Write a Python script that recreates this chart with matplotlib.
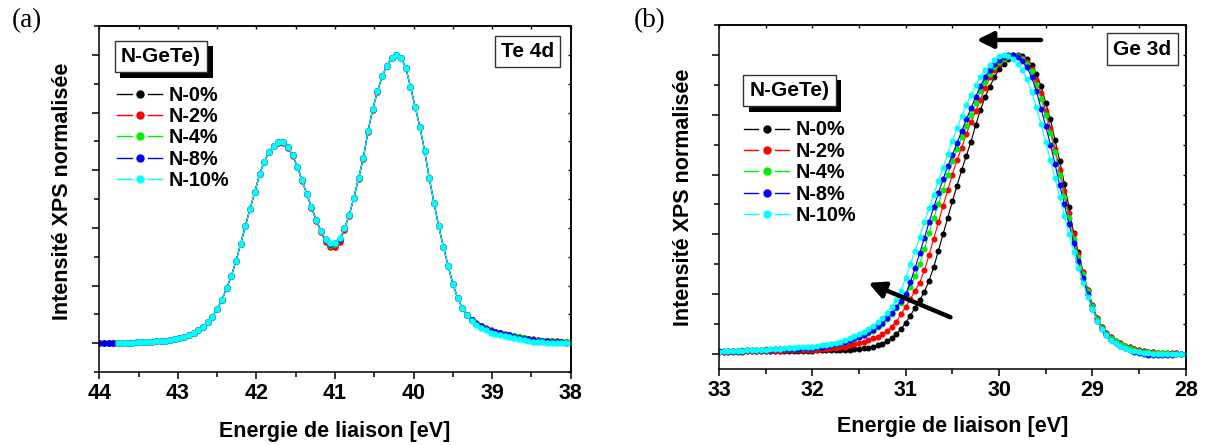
import numpy as np
import matplotlib
matplotlib.use("Agg")
import matplotlib.pyplot as plt
from matplotlib import patheffects
from matplotlib.lines import Line2D
from matplotlib.legend_handler import HandlerBase
from matplotlib.ticker import MultipleLocator, NullFormatter

plt.rcParams['font.family'] = ['Liberation Sans', 'DejaVu Sans']
plt.rcParams['font.weight'] = 'bold'
plt.rcParams['axes.labelweight'] = 'bold'

# ---------------- data ----------------
labels = ["N-0%", "N-2%", "N-4%", "N-8%", "N-10%"]
colors = ["#000000", "#ff0000", "#00ee00", "#0000ff", "#00ffff"]

# Te 4d : binding energy grid starts and step (eV)
te_start = [44.00, 44.00, 44.00, 44.00, 43.76]
te_step = 0.06
te_n0 = [0.000, 0.000, 0.001, 0.001, 0.001, 0.002, 0.002, 0.002, 0.003, 0.004,
         0.004, 0.005, 0.006, 0.008, 0.009, 0.011, 0.013, 0.017, 0.022, 0.028,
         0.036, 0.045, 0.057, 0.073, 0.092, 0.118, 0.150, 0.190, 0.233, 0.285,
         0.345, 0.408, 0.467, 0.525, 0.585, 0.630, 0.663, 0.685, 0.697, 0.696,
         0.680, 0.652, 0.612, 0.566, 0.518, 0.472, 0.428, 0.390, 0.356, 0.340,
         0.341, 0.358, 0.398, 0.444, 0.505, 0.573, 0.642, 0.735, 0.812, 0.873,
         0.925, 0.962, 0.988, 1.000, 0.990, 0.955, 0.890, 0.820, 0.750, 0.668,
         0.572, 0.487, 0.405, 0.333, 0.268, 0.205, 0.158, 0.121, 0.097, 0.080,
         0.068, 0.058, 0.050, 0.043, 0.038, 0.034, 0.030, 0.028, 0.024, 0.020,
         0.017, 0.014, 0.012, 0.010, 0.008, 0.007, 0.006, 0.005, 0.004, 0.003,
         0.003]
te_n2 = [0.000, 0.000, 0.001, 0.001, 0.001, 0.002, 0.002, 0.002, 0.003, 0.004,
         0.004, 0.005, 0.006, 0.008, 0.009, 0.011, 0.013, 0.017, 0.022, 0.028,
         0.036, 0.045, 0.057, 0.073, 0.092, 0.118, 0.150, 0.190, 0.233, 0.285,
         0.345, 0.408, 0.467, 0.525, 0.585, 0.630, 0.663, 0.685, 0.695, 0.694,
         0.678, 0.650, 0.610, 0.564, 0.516, 0.470, 0.425, 0.386, 0.352, 0.334,
         0.335, 0.352, 0.394, 0.441, 0.503, 0.571, 0.640, 0.733, 0.810, 0.872,
         0.925, 0.962, 0.988, 1.000, 0.990, 0.955, 0.890, 0.820, 0.750, 0.668,
         0.572, 0.487, 0.405, 0.333, 0.268, 0.205, 0.158, 0.121, 0.098, 0.081,
         0.069, 0.059, 0.051, 0.044, 0.039, 0.035, 0.031, 0.029, 0.025, 0.021,
         0.018, 0.015, 0.013, 0.011, 0.009, 0.008, 0.007, 0.006, 0.005, 0.004,
         0.004]
te_n4 = [0.000, 0.000, 0.001, 0.001, 0.001, 0.002, 0.002, 0.002, 0.003, 0.004,
         0.004, 0.005, 0.006, 0.008, 0.009, 0.011, 0.013, 0.017, 0.022, 0.028,
         0.036, 0.045, 0.057, 0.073, 0.092, 0.118, 0.150, 0.190, 0.233, 0.285,
         0.345, 0.408, 0.467, 0.525, 0.585, 0.630, 0.663, 0.685, 0.697, 0.696,
         0.680, 0.652, 0.612, 0.566, 0.518, 0.472, 0.428, 0.390, 0.358, 0.342,
         0.343, 0.360, 0.398, 0.444, 0.505, 0.573, 0.642, 0.735, 0.812, 0.873,
         0.925, 0.962, 0.988, 1.000, 0.990, 0.955, 0.890, 0.820, 0.750, 0.668,
         0.572, 0.487, 0.405, 0.333, 0.268, 0.205, 0.158, 0.121, 0.097, 0.080,
         0.068, 0.058, 0.050, 0.043, 0.038, 0.034, 0.030, 0.028, 0.024, 0.020,
         0.017, 0.014, 0.012, 0.010, 0.008, 0.007, 0.006, 0.005, 0.004, 0.003,
         0.003]
te_n8 = [0.000, 0.000, 0.001, 0.001, 0.001, 0.002, 0.002, 0.002, 0.003, 0.004,
         0.004, 0.005, 0.006, 0.008, 0.009, 0.011, 0.013, 0.017, 0.022, 0.028,
         0.036, 0.045, 0.057, 0.073, 0.092, 0.118, 0.150, 0.190, 0.233, 0.285,
         0.345, 0.408, 0.467, 0.525, 0.585, 0.630, 0.663, 0.685, 0.697, 0.696,
         0.680, 0.652, 0.612, 0.566, 0.518, 0.472, 0.428, 0.390, 0.360, 0.345,
         0.346, 0.362, 0.398, 0.444, 0.505, 0.573, 0.642, 0.735, 0.812, 0.873,
         0.925, 0.962, 0.988, 1.000, 0.990, 0.955, 0.890, 0.820, 0.750, 0.668,
         0.572, 0.487, 0.405, 0.333, 0.268, 0.205, 0.158, 0.121, 0.097, 0.080,
         0.068, 0.058, 0.050, 0.043, 0.038, 0.034, 0.030, 0.027, 0.023, 0.019,
         0.016, 0.013, 0.011, 0.009, 0.007, 0.006, 0.005, 0.004, 0.003, 0.002,
         0.002]
te_n10 = [0.001, 0.002, 0.002, 0.002, 0.003, 0.004,
          0.004, 0.005, 0.006, 0.008, 0.009, 0.011, 0.013, 0.017, 0.022, 0.028,
          0.036, 0.045, 0.057, 0.073, 0.092, 0.118, 0.150, 0.190, 0.233, 0.285,
          0.345, 0.408, 0.467, 0.525, 0.585, 0.630, 0.663, 0.685, 0.697, 0.696,
          0.680, 0.652, 0.612, 0.566, 0.518, 0.472, 0.428, 0.390, 0.362, 0.348,
          0.348, 0.365, 0.398, 0.444, 0.505, 0.573, 0.642, 0.735, 0.812, 0.873,
          0.925, 0.962, 0.988, 1.000, 0.990, 0.955, 0.890, 0.820, 0.750, 0.668,
          0.572, 0.487, 0.405, 0.333, 0.268, 0.205, 0.158, 0.121, 0.096, 0.078,
          0.064, 0.053, 0.044, 0.037, 0.031, 0.027, 0.024, 0.021, 0.017, 0.013,
          0.010, 0.007, 0.005, 0.004, 0.003, 0.002, 0.001, 0.001, 0.000, 0.000,
          0.000]

# Ge 3d : binding energy grid start and step (eV)
ge_start = 33.00
ge_step = 0.05
ge_n0 = [0.008, 0.008, 0.008, 0.008, 0.008, 0.008, 0.009, 0.009, 0.009, 0.009,
         0.009, 0.009, 0.010, 0.010, 0.010, 0.010, 0.010, 0.011, 0.011, 0.011,
         0.011, 0.012, 0.012, 0.012, 0.013, 0.013, 0.014, 0.015, 0.015, 0.016,
         0.017, 0.019, 0.021, 0.024, 0.029, 0.035, 0.043, 0.054, 0.067, 0.084,
         0.105, 0.128, 0.155, 0.180, 0.208, 0.245, 0.290, 0.345, 0.400, 0.455,
         0.510, 0.563, 0.615, 0.663, 0.710, 0.765, 0.815, 0.858, 0.893, 0.925,
         0.952, 0.970, 0.985, 0.996, 1.000, 0.996, 0.985, 0.967, 0.935, 0.897,
         0.840, 0.785, 0.715, 0.645, 0.570, 0.490, 0.405, 0.340, 0.275, 0.215,
         0.163, 0.120, 0.090, 0.070, 0.056, 0.045, 0.036, 0.028, 0.022, 0.017,
         0.013, 0.010, 0.008, 0.006, 0.005, 0.004, 0.003, 0.002, 0.002, 0.001,
         0.001]
ge_n2 = [0.008, 0.008, 0.008, 0.009, 0.009, 0.009, 0.009, 0.010, 0.010, 0.010,
         0.010, 0.011, 0.011, 0.011, 0.012, 0.012, 0.012, 0.013, 0.013, 0.014,
         0.014, 0.015, 0.016, 0.017, 0.019, 0.020, 0.022, 0.025, 0.029, 0.033,
         0.037, 0.041, 0.047, 0.052, 0.058, 0.066, 0.077, 0.091, 0.108, 0.133,
         0.158, 0.183, 0.212, 0.238, 0.280, 0.330, 0.385, 0.440, 0.495, 0.548,
         0.600, 0.648, 0.690, 0.735, 0.775, 0.812, 0.850, 0.890, 0.925, 0.950,
         0.970, 0.985, 0.995, 1.000, 0.997, 0.989, 0.975, 0.952, 0.916, 0.872,
         0.812, 0.755, 0.685, 0.615, 0.545, 0.470, 0.400, 0.335, 0.275, 0.215,
         0.163, 0.120, 0.090, 0.070, 0.056, 0.045, 0.036, 0.028, 0.022, 0.017,
         0.013, 0.010, 0.008, 0.006, 0.005, 0.004, 0.003, 0.002, 0.002, 0.001,
         0.001]
ge_n4 = [0.009, 0.010, 0.010, 0.011, 0.011, 0.012, 0.013, 0.013, 0.014, 0.015,
         0.016, 0.016, 0.017, 0.017, 0.018, 0.019, 0.019, 0.020, 0.021, 0.021,
         0.022, 0.024, 0.026, 0.029, 0.032, 0.035, 0.038, 0.042, 0.047, 0.051,
         0.056, 0.062, 0.069, 0.078, 0.089, 0.102, 0.117, 0.134, 0.153, 0.172,
         0.195, 0.225, 0.260, 0.300, 0.350, 0.405, 0.455, 0.500, 0.550, 0.600,
         0.645, 0.685, 0.725, 0.762, 0.800, 0.840, 0.878, 0.910, 0.937, 0.958,
         0.975, 0.988, 0.997, 1.000, 0.996, 0.986, 0.970, 0.945, 0.900, 0.852,
         0.800, 0.740, 0.675, 0.600, 0.525, 0.455, 0.385, 0.325, 0.268, 0.210,
         0.160, 0.118, 0.088, 0.068, 0.054, 0.043, 0.034, 0.026, 0.020, 0.015,
         0.011, 0.008, 0.006, 0.004, 0.003, 0.002, 0.002, 0.001, 0.001, 0.001,
         0.000]
ge_n8 = [0.009, 0.009, 0.010, 0.010, 0.011, 0.011, 0.012, 0.012, 0.013, 0.014,
         0.015, 0.015, 0.016, 0.016, 0.017, 0.017, 0.018, 0.018, 0.019, 0.019,
         0.020, 0.022, 0.024, 0.027, 0.030, 0.033, 0.037, 0.041, 0.046, 0.052,
         0.058, 0.065, 0.073, 0.082, 0.093, 0.105, 0.120, 0.138, 0.157, 0.178,
         0.200, 0.240, 0.287, 0.337, 0.388, 0.440, 0.490, 0.538, 0.584, 0.627,
         0.665, 0.706, 0.745, 0.785, 0.822, 0.860, 0.895, 0.925, 0.950, 0.968,
         0.982, 0.993, 1.000, 0.999, 0.992, 0.978, 0.958, 0.925, 0.880, 0.820,
         0.762, 0.700, 0.635, 0.565, 0.500, 0.435, 0.370, 0.310, 0.255, 0.200,
         0.152, 0.112, 0.083, 0.062, 0.047, 0.036, 0.027, 0.019, 0.012, 0.006,
         0.002, -0.001, -0.003, -0.004, -0.004, -0.004, -0.003, -0.002, -0.001, 0.000,
         0.000]
ge_n10 = [0.008, 0.009, 0.009, 0.010, 0.010, 0.011, 0.012, 0.012, 0.013, 0.014,
          0.015, 0.016, 0.017, 0.018, 0.019, 0.020, 0.021, 0.022, 0.023, 0.024,
          0.025, 0.027, 0.029, 0.031, 0.034, 0.037, 0.041, 0.046, 0.052, 0.059,
          0.066, 0.075, 0.084, 0.094, 0.106, 0.121, 0.138, 0.157, 0.182, 0.212,
          0.255, 0.300, 0.345, 0.392, 0.440, 0.487, 0.533, 0.578, 0.623, 0.668,
          0.712, 0.755, 0.795, 0.833, 0.867, 0.898, 0.927, 0.948, 0.965, 0.983,
          0.995, 1.000, 0.995, 0.985, 0.970, 0.950, 0.918, 0.875, 0.825, 0.770,
          0.710, 0.648, 0.588, 0.525, 0.462, 0.400, 0.342, 0.288, 0.238, 0.190,
          0.150, 0.112, 0.084, 0.064, 0.048, 0.037, 0.028, 0.021, 0.015, 0.010,
          0.007, 0.004, 0.002, 0.001, 0.000, 0.000, 0.000, 0.000, 0.000, 0.000,
          0.000]

te_series = [te_n0, te_n2, te_n4, te_n8, te_n10]
ge_series = [ge_n0, ge_n2, ge_n4, ge_n8, ge_n10]


class GapLineHandler(HandlerBase):
    """Legend glyph drawn as  — • —  (line, gap, marker, gap, line)."""
    def create_artists(self, legend, orig_handle, xdescent, ydescent,
                       width, height, fontsize, trans):
        y = (height - ydescent) / 2.0
        x0 = -xdescent
        x1 = x0 + width
        xm = 0.5 * (x0 + x1)
        gap = 0.18 * width
        c = orig_handle.get_color()
        l1 = Line2D([x0, xm - gap], [y, y], color=c, lw=1.0)
        l2 = Line2D([xm + gap, x1], [y, y], color=c, lw=1.0)
        m = Line2D([xm], [y], marker='o', ms=5.0, color=c, linestyle='none')
        for a in (l1, l2, m):
            a.set_transform(trans)
        return [l1, l2, m]


# ---------------- figure ----------------
fig = plt.figure(figsize=(12.05, 4.45), dpi=100)
axA = fig.add_axes([0.08241, 0.16404, 0.39120, 0.77753])
axB = fig.add_axes([0.59668, 0.17079, 0.38730, 0.77303])


def style_axes(ax, xlim, ylim, lab_x, lab_y, lab_yc):
    ax.set_xlim(*xlim)
    ax.set_ylim(*ylim)
    ax.xaxis.set_major_locator(MultipleLocator(1))
    ax.xaxis.set_minor_locator(MultipleLocator(0.5))
    ax.yaxis.set_major_locator(MultipleLocator(0.2))
    ax.yaxis.set_minor_locator(MultipleLocator(0.1))
    ax.yaxis.set_major_formatter(NullFormatter())
    for s in ax.spines.values():
        s.set_linewidth(1.1)
    ax.tick_params(which='both', direction='out', top=False, right=False,
                   width=1.1, labelsize=15.5, pad=3.0)
    ax.tick_params(which='major', length=5)
    ax.tick_params(which='minor', length=3.5)
    for lb in ax.get_xticklabels():
        lb.set_fontweight('bold')
    sec_x = ax.secondary_xaxis('top')
    sec_x.xaxis.set_major_locator(MultipleLocator(1))
    sec_x.xaxis.set_minor_locator(MultipleLocator(0.5))
    sec_x.tick_params(which='both', direction='in', length=2.5, width=1.0,
                      labeltop=False)
    sec_x.spines['top'].set_linewidth(1.1)
    sec_y = ax.secondary_yaxis('right')
    sec_y.yaxis.set_major_locator(MultipleLocator(0.2))
    sec_y.yaxis.set_minor_locator(MultipleLocator(0.1))
    sec_y.tick_params(which='both', direction='in', length=2.5, width=1.0,
                      labelright=False)
    sec_y.spines['right'].set_linewidth(1.1)
    ax.set_xlabel("Energie de liaison [eV]", fontsize=15.5, fontweight='bold')
    ax.set_ylabel("Intensité XPS normalisée", fontsize=15.5, fontweight='bold')
    ax.xaxis.set_label_coords(0.5, lab_x)
    ax.yaxis.set_label_coords(lab_y, lab_yc)


def add_box(ax, x, y, txt, shadow):
    t = ax.text(x, y, txt, transform=ax.transAxes, ha='center', va='center',
                fontsize=15, fontweight='bold', zorder=10,
                bbox=dict(boxstyle='square,pad=0.3', facecolor='white',
                          edgecolor='#333333', linewidth=1.0))
    if shadow:
        t.get_bbox_patch().set_path_effects([
            patheffects.SimplePatchShadow(offset=(4, -4), shadow_rgbFace='black', alpha=1.0),
            patheffects.Normal()])
    return t


legend_kw = dict(loc='upper left', frameon=False, borderpad=0, borderaxespad=0,
                 handletextpad=0.33, labelspacing=0.12,
                 handler_map={Line2D: GapLineHandler()},
                 prop={'weight': 'bold', 'size': 14.3, 'family': ['Liberation Sans']})

# ---- panel (a) ----
linesA = []
for vals, st, c, lab in zip(te_series, te_start, colors, labels):
    e = np.round(st - te_step * np.arange(len(vals)), 2)
    ln, = axA.plot(e, vals, '-', color=c, lw=0.8, marker='o', ms=3.7,
                   mec=c, mfc=c, label=lab)
    linesA.append(ln)
style_axes(axA, (44, 38), (-0.1, 1.1), -0.142, -0.055, 0.523)
add_box(axA, 0.131, 0.912, "N-GeTe)", True)
add_box(axA, 0.9085, 0.926, "Te 4d", False)
axA.legend(handles=linesA, bbox_to_anchor=(0.0384, 0.828), handlelength=2.25,
           **legend_kw)
fig.text(12 / 1205, 1 - 21 / 445, "(a)", fontsize=19.5, fontweight='normal',
         family=['Liberation Serif'], ha='left', va='center')

# ---- panel (b) ----
linesB = []
for vals, c, lab in zip(ge_series, colors, labels):
    e = np.round(ge_start - ge_step * np.arange(len(vals)), 2)
    ln, = axB.plot(e, vals, '-', color=c, lw=0.8, marker='o', ms=3.3,
                   mec=c, mfc=c, label=lab)
    linesB.append(ln)
style_axes(axB, (33, 28), (-0.05, 1.1), -0.137, -0.054, 0.5)
add_box(axB, 0.1514, 0.810, "N-GeTe)", True)
add_box(axB, 0.9075, 0.930, "Ge 3d", False)
axB.legend(handles=linesB, bbox_to_anchor=(0.0529, 0.7225), handlelength=2.3,
           **legend_kw)
arrow_kw = dict(arrowstyle='-|>,head_length=0.7,head_width=0.35', lw=3.2,
                color='black', mutation_scale=14, shrinkA=0, shrinkB=0)
axB.annotate('', xy=(30.24, 1.05), xytext=(29.55, 1.05), arrowprops=arrow_kw)
axB.annotate('', xy=(31.40, 0.238), xytext=(30.52, 0.123), arrowprops=arrow_kw)
fig.text(634 / 1205, 1 - 21 / 445, "(b)", fontsize=19.5, fontweight='normal',
         family=['Liberation Serif'], ha='left', va='center')

fig.savefig("out.png", dpi=100)
